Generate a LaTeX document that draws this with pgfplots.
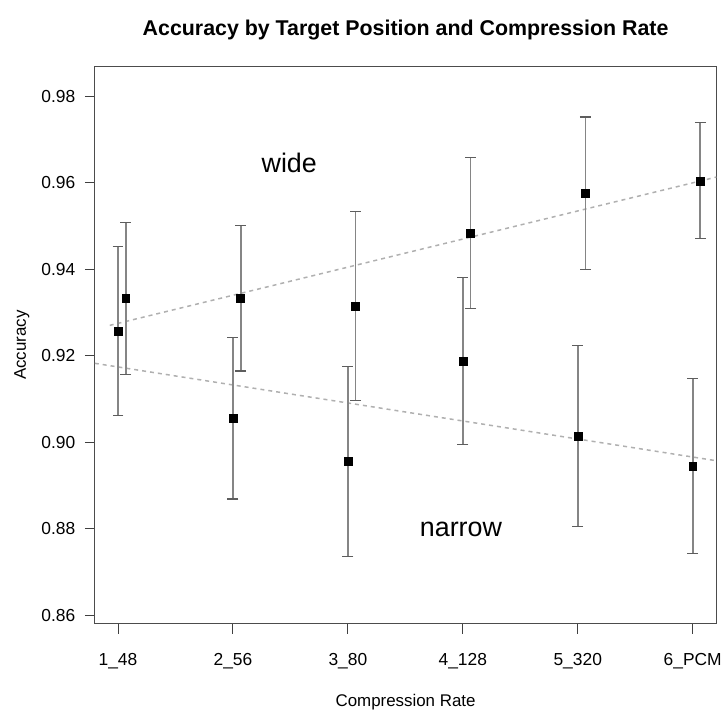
\documentclass[border=0pt]{standalone}
\usepackage{fontspec}
\setmainfont{Liberation Sans}
\usepackage{pgfplots}
\pgfplotsset{compat=1.18}
\definecolor{barcol}{HTML}{858585}
\definecolor{fitcol}{HTML}{B0B0B0}
\begin{document}
\begin{tikzpicture}
\begin{axis}[
  name=ax,
  scale only axis,
  width=623bp, height=558bp,
  xmin=0.798, xmax=6.206,
  ymin=0.8581, ymax=0.98685,
  axis line style={black!70, line width=1bp},
  tick style={black!75, line width=1bp},
  tick align=outside,
  major tick length=10bp,
  xtick pos=bottom, ytick pos=left,
  xtick={1,2,3,4,5,6},
  xticklabels={1\_48,2\_56,3\_80,4\_128,5\_320,6\_PCM},
  ytick={0.86,0.88,0.90,0.92,0.94,0.96,0.98},
  yticklabel style={/pgf/number format/fixed, /pgf/number format/fixed zerofill,
    /pgf/number format/precision=2, xshift=-6bp},
  xticklabel style={yshift=-16bp},
  /pgf/number format/assume math mode=true,
  tick label style={font=\fontsize{17.5}{20}\selectfont},
  label style={font=\fontsize{17}{20}\selectfont},
  xlabel={Compression Rate},
  ylabel={Accuracy},
  xlabel style={at={(axis description cs:0.5,-0.142)}, anchor=center},
  ylabel style={at={(axis description cs:-0.1172,0.5)}, anchor=center, rotate=0},
  title={Accuracy by Target Position and Compression Rate},
  title style={font=\fontsize{21.5}{24}\selectfont\bfseries,
    at={(axis description cs:0.5,1.0556)}, anchor=center},
  error bars/error bar style={barcol, line width=1.8bp},
  error bars/error mark options={rotate=90, barcol!70!black, line width=1.2bp, mark size=5.5bp},
]
% fitted trend lines
\addplot[fitcol, line width=1.5bp, dash pattern=on 4bp off 4bp] coordinates {
  (0.928,0.92706) (6.206,0.96136)};
\addplot[fitcol, line width=1.5bp, dash pattern=on 4bp off 4bp] coordinates {
  (0.798,0.91829) (6.206,0.89576)};
% narrow
\addplot[only marks, mark=square*, mark size=4bp, black,
  error bars/.cd, y dir=both, y explicit] coordinates {
  (1,0.92574) += (0,0.01947) -= (0,0.01960)
  (2,0.90554) += (0,0.01868) -= (0,0.01862)
  (3,0.89569) += (0,0.02184) -= (0,0.02208)
  (4,0.91882) += (0,0.01924) -= (0,0.01937)
  (5,0.90152) += (0,0.02093) -= (0,0.02099)
  (6,0.89446) += (0,0.02037) -= (0,0.02023)
};
% wide
\addplot[only marks, mark=square*, mark size=4bp, black,
  error bars/.cd, y dir=both, y explicit] coordinates {
  (1.067,0.93329) += (0,0.01760) -= (0,0.01754)
  (2.067,0.93329) += (0,0.01691) -= (0,0.01677)
  (3.067,0.93151) += (0,0.02185) -= (0,0.02175)
  (4.067,0.94844) += (0,0.01737) -= (0,0.01753)
  (5.067,0.95767) += (0,0.01760) -= (0,0.01769)
  (6.067,0.96051) += (0,0.01345) -= (0,0.01338)
};
\node[font=\fontsize{27}{30}\selectfont] at (axis cs:2.49,0.96466) {wide};
\node[font=\fontsize{27}{30}\selectfont] at (axis cs:3.984,0.87977) {narrow};
\coordinate (sw) at (rel axis cs:0,0);
\coordinate (ne) at (rel axis cs:1,1);
\end{axis}
\path ([shift={(-95bp,-86bp)}]sw) rectangle ([shift={(7bp,67bp)}]ne);
\end{tikzpicture}
\end{document}
